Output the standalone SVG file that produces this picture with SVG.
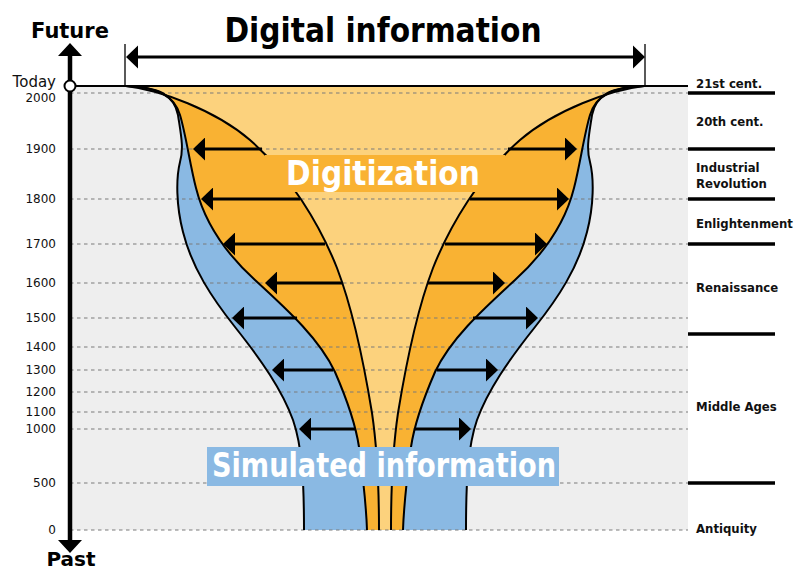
<svg xmlns="http://www.w3.org/2000/svg" width="795" height="570" viewBox="0 0 795 570">
<style>
.lbl{font-family:'DejaVu Sans Condensed','DejaVu Sans',sans-serif;font-stretch:condensed;font-weight:bold;}
.yr{font-family:'DejaVu Sans',sans-serif;font-size:12px;fill:#111;text-anchor:end;}
.era{font-size:13px;fill:#111;}
.dash{stroke:#7a7a7a;stroke-width:1;stroke-dasharray:3.5 3.5;fill:none;}
.sep{stroke:#000;stroke-width:3.5;}
.curve{fill:none;stroke:#000;stroke-width:2;}
.arr{stroke:#000;stroke-width:3;fill:none;marker-end:url(#ah);}
.big{font-size:33px;fill:#fff;text-anchor:middle;}
</style>
<defs>
<marker id="ah" markerUnits="userSpaceOnUse" viewBox="0 -11.5 12 23" refX="6" refY="0" markerWidth="12" markerHeight="23" orient="auto">
<path d="M0,-11.5 L12,0 L0,11.5 Z" fill="#000"/>
</marker>
<path id="cL" d="M125,86 C158,87 174,94 178,115 C181,135 184,148 180,162 C176,178 176,205 183,232 C192,268 212,298 235,327 C262,361 282,390 293,420 C302,446 304,480 304,530"/>
<path id="bL" d="M126,86 C158,87 174,96 180,115 C186,135 190,165 196,188 C204,220 222,250 255,280 C290,312 320,340 335,372 C345,395 355,420 359,447 C362,470 366,500 367,530"/>
<path id="aL" d="M126,86 C160,90 215,110 250,140 C290,175 320,225 337,268 C355,315 365,370 372,413 C376,440 379,480 379,530"/>
</defs>

<g id="background">
<rect x="70" y="86" width="618" height="444" fill="#eeeeee"/>
</g>

<g id="simulated-region">
<path fill="#8ab9e3" d="M125,86 C158,87 174,94 178,115 C181,135 184,148 180,162 C176,178 176,205 183,232 C192,268 212,298 235,327 C262,361 282,390 293,420 C302,446 304,480 304,530 L466,530 C466,480 468,446 477,420 C488,390 508,361 535,327 C558,298 578,268 587,232 C594,205 594,178 590,162 C586,148 589,135 592,115 C596,94 612,87 645,86 Z"/>
</g>
<g id="digitization-region">
<path fill="#f9b233" d="M126,86 C158,87 174,96 180,115 C186,135 190,165 196,188 C204,220 222,250 255,280 C290,312 320,340 335,372 C345,395 355,420 359,447 C362,470 366,500 367,530 L403,530 C404,500 408,470 411,447 C415,420 425,395 435,372 C450,340 480,312 515,280 C548,250 566,220 574,188 C580,165 584,135 590,115 C596,96 612,87 644,86 Z"/>
</g>
<g id="digital-region">
<path fill="#fcd27d" d="M126,86 C160,90 215,110 250,140 C290,175 320,225 337,268 C355,315 365,370 372,413 C376,440 379,480 379,530 L391,530 C391,480 394,440 398,413 C405,370 415,315 433,268 C450,225 480,175 520,140 C555,110 610,90 644,86 Z"/>
</g>

<g id="gridlines">
<line class="dash" x1="70" y1="93" x2="688" y2="93"/>
<line class="dash" x1="70" y1="149" x2="688" y2="149"/>
<line class="dash" x1="70" y1="199" x2="688" y2="199"/>
<line class="dash" x1="70" y1="244" x2="688" y2="244"/>
<line class="dash" x1="70" y1="283" x2="688" y2="283"/>
<line class="dash" x1="70" y1="318" x2="688" y2="318"/>
<line class="dash" x1="70" y1="347" x2="688" y2="347"/>
<line class="dash" x1="70" y1="370" x2="688" y2="370"/>
<line class="dash" x1="70" y1="392" x2="688" y2="392"/>
<line class="dash" x1="70" y1="412" x2="688" y2="412"/>
<line class="dash" x1="70" y1="429" x2="688" y2="429"/>
<line class="dash" x1="70" y1="483" x2="688" y2="483"/>
<line class="dash" x1="70" y1="530" x2="688" y2="530"/>
</g>

<g id="curves">
<use href="#cL" class="curve"/>
<use href="#bL" class="curve"/>
<use href="#aL" class="curve"/>
<g transform="translate(770,0) scale(-1,1)">
<use href="#cL" class="curve"/>
<use href="#bL" class="curve"/>
<use href="#aL" class="curve"/>
</g>
</g>

<g id="connectors">
<line class="arr" x1="262" y1="149" x2="199" y2="149"/>
<line class="arr" x1="300" y1="199" x2="207" y2="199"/>
<line class="arr" x1="325" y1="244" x2="229" y2="244"/>
<line class="arr" x1="342" y1="283" x2="271" y2="283"/>
<line class="arr" x1="297" y1="318" x2="238" y2="318"/>
<line class="arr" x1="333" y1="370" x2="278" y2="370"/>
<line class="arr" x1="355" y1="429" x2="305" y2="429"/>
<line class="arr" x1="508" y1="149" x2="571" y2="149"/>
<line class="arr" x1="470" y1="199" x2="563" y2="199"/>
<line class="arr" x1="445" y1="244" x2="541" y2="244"/>
<line class="arr" x1="428" y1="283" x2="499" y2="283"/>
<line class="arr" x1="473" y1="318" x2="532" y2="318"/>
<line class="arr" x1="437" y1="370" x2="492" y2="370"/>
<line class="arr" x1="415" y1="429" x2="465" y2="429"/>
<line stroke="#000" stroke-width="1.3" x1="125" y1="44" x2="125" y2="86"/>
<line stroke="#000" stroke-width="1.3" x1="645" y1="44" x2="645" y2="86"/>
<line stroke="#000" stroke-width="3" x1="138" y1="57" x2="633" y2="57"/>
<path d="M126,57 L138,45.5 L138,68.5 Z M645,57 L633,45.5 L633,68.5 Z" fill="#000"/>
</g>

<g id="top-line">
<line stroke="#000" stroke-width="2" x1="70" y1="86" x2="688" y2="86"/>
</g>

<g id="axis">
<line stroke="#000" stroke-width="4.5" x1="70" y1="55" x2="70" y2="541"/>
<path d="M70,43 L58,56 L82,56 Z M58,540 L82,540 L70,553 Z" fill="#000"/>
<circle cx="70" cy="86" r="5.5" fill="#fff" stroke="#000" stroke-width="2"/>
<text class="lbl" x="70" y="38" font-size="21" text-anchor="middle" style="font-stretch:normal;font-family:'DejaVu Sans',sans-serif">Future</text>
<text class="lbl" x="71" y="566" font-size="20" text-anchor="middle" style="font-stretch:normal;font-family:'DejaVu Sans',sans-serif">Past</text>
<text x="56" y="87" font-family="'DejaVu Sans',sans-serif" font-size="15" text-anchor="end" fill="#111">Today</text>
<text class="yr" x="56" y="102">2000</text>
<text class="yr" x="56" y="153">1900</text>
<text class="yr" x="56" y="203">1800</text>
<text class="yr" x="56" y="248">1700</text>
<text class="yr" x="56" y="287">1600</text>
<text class="yr" x="56" y="322">1500</text>
<text class="yr" x="56" y="351">1400</text>
<text class="yr" x="56" y="374">1300</text>
<text class="yr" x="56" y="396">1200</text>
<text class="yr" x="56" y="416">1100</text>
<text class="yr" x="56" y="433">1000</text>
<text class="yr" x="56" y="487">500</text>
<text class="yr" x="56" y="534">0</text>
</g>

<g id="eras">
<line class="sep" x1="688" y1="93" x2="775" y2="93"/>
<line class="sep" x1="688" y1="149" x2="775" y2="149"/>
<line class="sep" x1="688" y1="199" x2="775" y2="199"/>
<line class="sep" x1="688" y1="244" x2="775" y2="244"/>
<line class="sep" x1="688" y1="334" x2="775" y2="334"/>
<line class="sep" x1="688" y1="483" x2="775" y2="483"/>
<text class="lbl era" x="696" y="88">21st cent.</text>
<text class="lbl era" x="696" y="126">20th cent.</text>
<text class="lbl era" x="696" y="172">Industrial</text>
<text class="lbl era" x="696" y="188">Revolution</text>
<text class="lbl era" x="696" y="228">Enlightenment</text>
<text class="lbl era" x="696" y="292">Renaissance</text>
<text class="lbl era" x="696" y="411">Middle Ages</text>
<text class="lbl era" x="696" y="533">Antiquity</text>
</g>

<g id="title-digital">
<text class="lbl" x="383" y="42" font-size="33" text-anchor="middle" fill="#000">Digital information</text>
</g>
<g id="label-digitization">
<rect x="265" y="155" width="240" height="37" fill="#f9b233"/>
<text class="lbl big" x="383" y="185">Digitization</text>
</g>
<g id="label-simulated">
<rect x="207" y="447" width="352" height="39" fill="#8ab9e3"/>
<text class="lbl big" x="384" y="477" font-size="30" textLength="344" lengthAdjust="spacingAndGlyphs">Simulated information</text>
</g>
</svg>
